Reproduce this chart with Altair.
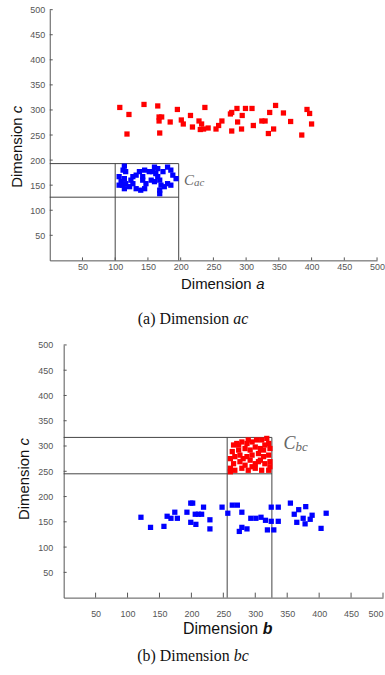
import altair as alt
import pandas as pd

# ---------------- data ----------------
tick_vals = [50, 100, 150, 200, 250, 300, 350, 400, 450, 500]

# panel (a): dimension a vs c
red_ac_a = [107, 144, 165, 195, 237, 121, 118, 168, 167, 171, 167, 184, 201, 204, 215, 218, 228, 232, 230, 235,
            242, 254, 258, 263, 276, 278, 286, 278, 287, 294, 293, 299, 309, 311, 324, 329, 334, 336, 342, 345,
            357, 368, 385, 393, 397, 400]
red_ac_c = [305, 311, 308, 301, 305, 291, 252, 254, 286, 286, 278, 276, 280, 272, 289, 266, 278, 272, 261, 262,
            264, 262, 269, 278, 292, 295, 303, 258, 276, 289, 262, 303, 303, 269, 278, 278, 253, 295, 262, 309,
            294, 277, 250, 301, 293, 272]
blue_ac_a = [114, 112, 106, 114, 109, 116, 106, 122, 114, 127, 132, 124, 137, 145, 152, 142, 142, 139, 145, 160,
             165, 157, 162, 155, 160, 165, 168, 170, 168, 168, 180, 185, 188, 180, 185, 193, 175, 116, 111, 132,
             147, 173, 127]
blue_ac_c = [188, 180, 167, 163, 157, 153, 150, 147, 143, 167, 170, 160, 177, 180, 177, 167, 160, 140, 143, 186,
             183, 177, 173, 160, 157, 167, 160, 150, 140, 133, 186, 180, 170, 153, 150, 163, 147, 177, 150, 143,
             153, 177, 153]
box_ac_a = [100, 197]
box_ac_c = [126, 193]

# panel (b): dimension b vs c
blue_bc_b = [121, 136, 157, 162, 174, 168, 178, 193, 199, 202, 199, 207, 206, 211, 219, 216, 229, 229, 248, 257,
             264, 272, 279, 275, 279, 287, 293, 301, 309, 316, 325, 325, 329, 319, 336, 336, 355, 361, 365, 368,
             375, 378, 379, 386, 389, 403, 411]
blue_bc_c = [159, 139, 141, 161, 169, 157, 157, 169, 187, 187, 149, 145, 165, 165, 179, 165, 154, 136, 179, 167,
             183, 183, 169, 131, 139, 136, 157, 157, 159, 153, 179, 151, 134, 134, 179, 151, 187, 165, 149, 174,
             157, 146, 180, 155, 163, 137, 167]
red_bc_b = [266, 271, 279, 287, 295, 302, 310, 318, 321, 264, 274, 284, 292, 300, 308, 315, 323, 261, 268, 276,
            287, 295, 305, 313, 321, 266, 276, 284, 292, 300, 308, 315, 323, 261, 268, 279, 289, 300, 310, 321,
            323, 261, 295, 281, 305, 274, 289, 313]
red_bc_c = [302, 305, 308, 305, 308, 312, 312, 315, 305, 289, 292, 295, 292, 298, 295, 302, 295, 275, 279, 282,
            279, 282, 285, 279, 282, 265, 269, 262, 272, 265, 272, 265, 269, 256, 252, 256, 252, 256, 252, 252,
            259, 249, 259, 275, 269, 302, 312, 292]
box_bc_b = [256, 326]
box_bc_c = [245, 317]

# ---------------- layout constants ----------------
W1, H1 = 329, 252
W2, H2 = 335, 254
OFF2 = 14  # bottom panel axis starts 14px right of the common origin

RED = "#ff0000"
BLUE = "#0000ff"
LINE = "#444444"
SANS = "Liberation Sans"
SERIF = "Liberation Serif"


def make_axis(pad, offset=None, flush=False):
    kw = dict(values=tick_vals, ticks=False, tickSize=0, grid=False, title=None,
              labelFont=SANS, labelFontSize=9, labelColor="#555555",
              domainColor="#555555", domainWidth=1, labelPadding=pad,
              labelFlush=flush, labelOverlap=False, labelBound=False)
    if offset is not None:
        kw["offset"] = offset
    return alt.Axis(**kw)


def txt(s, x, y, size, font=SANS, style="normal", weight="normal", color="#111111",
        align="left", angle=0):
    kw = dict(font=font, fontSize=size, fontStyle=style, fontWeight=weight, color=color,
              align=align, baseline="middle")
    if angle:
        kw["angle"] = angle
    return alt.Chart(pd.DataFrame({"t": [s]})).mark_text(**kw).encode(
        x=alt.value(x), y=alt.value(y), text="t:N")


def panel(red_x, red_y, blue_x, blue_y, box_x, box_y, W, H, xrange, xpad, ypad,
          yoffset, tick_x0, xtick_len, ytick_len, xflush):
    if xrange is None:
        sx = alt.Scale(domain=[0, 500], nice=False, zero=False)
    else:
        sx = alt.Scale(domain=[0, 500], nice=False, zero=False, range=xrange)
    sy = alt.Scale(domain=[0, 500], nice=False, zero=False)
    ax = make_axis(xpad, flush=xflush)
    ay = make_axis(ypad, yoffset)

    def X(f):
        return alt.X(f, type="quantitative", scale=sx, axis=ax)

    def Y(f):
        return alt.Y(f, type="quantitative", scale=sy, axis=ay)

    rows = []
    for v in box_y:
        rows.append({"x": 0, "x2": max(box_x), "y": v, "y2": v})
    for v in box_x:
        rows.append({"x": v, "x2": v, "y": 0, "y2": max(box_y)})
    box = alt.Chart(pd.DataFrame(rows)).mark_rule(color=LINE, strokeWidth=1).encode(
        x=X("x"), x2="x2:Q", y=Y("y"), y2="y2:Q")

    red = alt.Chart(pd.DataFrame({"p": red_x, "q": red_y})).mark_square(
        color=RED, size=28, opacity=1).encode(x=X("p"), y=Y("q"))
    blue = alt.Chart(pd.DataFrame({"p": blue_x, "q": blue_y})).mark_square(
        color=BLUE, size=28, opacity=1).encode(x=X("p"), y=Y("q"))

    tdf = pd.DataFrame({"v": tick_vals})
    xt = alt.Chart(tdf).mark_rule(color="#555555").encode(
        x=X("v"), y=alt.value(H), y2=alt.value(H - xtick_len))
    yt = alt.Chart(tdf).mark_rule(color="#555555").encode(
        y=Y("v"), x=alt.value(tick_x0), x2=alt.value(tick_x0 + ytick_len))
    return [box, red, blue, xt, yt]


# ---------------- panel (a) ----------------
top_layers = panel(red_ac_a, red_ac_c, blue_ac_a, blue_ac_c, box_ac_a, box_ac_c,
                   W1, H1, None, 2, 5, None, 0, 3, 3, False)
top_text = [
    txt("Dimension", 132, 276, 15),
    txt("a", 207.5, 276, 15, style="italic"),
    txt("Dimension", -33, 179, 15, angle=270),
    txt("c", -33, 104, 15, style="italic", angle=270),
    txt("C", 135, 171, 15, font=SERIF, style="italic", color="#666666"),
    txt("ac", 145, 174, 11, font=SERIF, style="italic", color="#666666"),
    txt("(a) Dimension", 88.5, 311, 16, font=SERIF),
    txt("ac", 184.5, 311, 16, font=SERIF, style="italic"),
]
top = alt.layer(*top_layers, *top_text).properties(width=W1, height=H1)

# ---------------- panel (b) ----------------
bot_layers = panel(red_bc_b, red_bc_c, blue_bc_b, blue_bc_c, box_bc_b, box_bc_c,
                   W2, H2, [OFF2, W2], 12, 11, -OFF2, OFF2, 5, 3, True)
bot_text = [
    txt("Dimension", 134, 286, 16),
    txt("b", 214, 286, 16, style="italic", weight="bold"),
    txt("Dimension", -26, 176, 15, angle=270),
    txt("c", -26, 101, 15, style="italic", angle=270),
    txt("C", 235, 100, 18, font=SERIF, style="italic", color="#666666"),
    txt("bc", 247, 103, 13, font=SERIF, style="italic", color="#666666"),
    txt("(b) Dimension", 88, 313, 16, font=SERIF),
    txt("bc", 185, 313, 16, font=SERIF, style="italic"),
]
bottom = alt.layer(*bot_layers, *bot_text).properties(width=W2, height=H2)

chart = alt.vconcat(top, bottom, spacing=85, bounds="flush").properties(
    padding={"left": 10, "top": 4, "right": 0, "bottom": 0},
    background="white",
).configure_view(stroke=None)

chart.save("out.html", embed_options={"renderer": "svg", "actions": False})
